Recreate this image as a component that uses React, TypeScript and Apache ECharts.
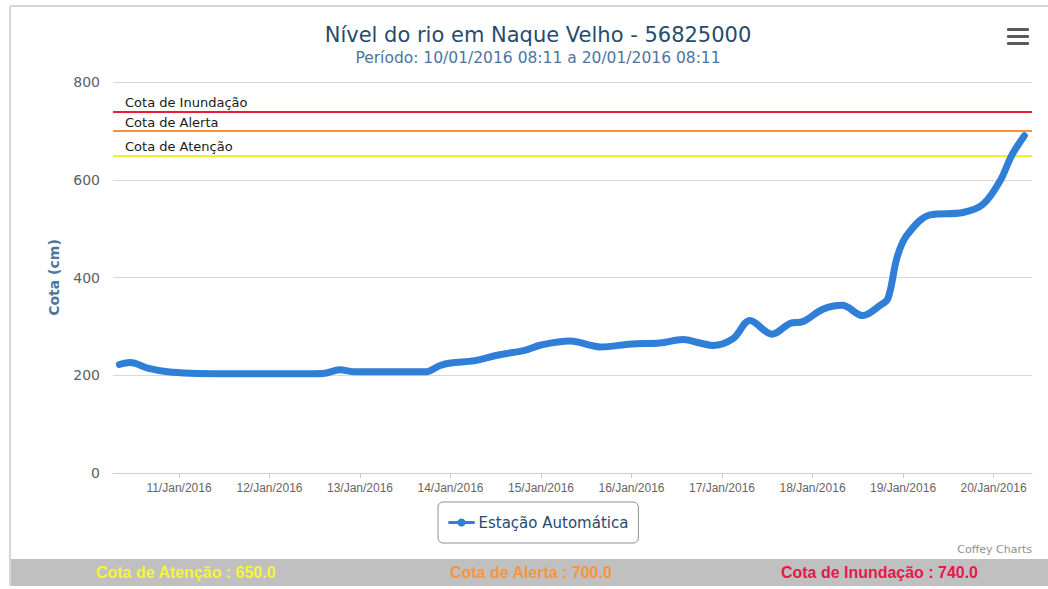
import React, { useEffect, useRef } from "react";
import * as echarts from "echarts";

const TITLE = "Nível do rio em Naque Velho - 56825000";
const SUBTITLE = "Período: 10/01/2016 08:11 a 20/01/2016 08:11";
const SERIES_NAME = "Estação Automática";
const Y_TITLE = "Cota (cm)";

const times: string[] = [
  "2016-01-10 08:11", "2016-01-10 11:00", "2016-01-10 16:00", "2016-01-10 21:00",
  "2016-01-11 03:00", "2016-01-11 12:00", "2016-01-12 00:00", "2016-01-12 12:00",
  "2016-01-12 14:40", "2016-01-12 18:40", "2016-01-12 22:40", "2016-01-13 12:00",
  "2016-01-13 17:15", "2016-01-13 21:15", "2016-01-14 00:00", "2016-01-14 06:30",
  "2016-01-14 13:00", "2016-01-14 19:40", "2016-01-15 00:00", "2016-01-15 07:40",
  "2016-01-15 15:40", "2016-01-16 00:00", "2016-01-16 07:30", "2016-01-16 13:40",
  "2016-01-16 18:10", "2016-01-16 21:35", "2016-01-17 02:55", "2016-01-17 07:25",
  "2016-01-17 13:15", "2016-01-17 18:00", "2016-01-17 21:30", "2016-01-18 02:45",
  "2016-01-18 07:50", "2016-01-18 13:20", "2016-01-18 17:55", "2016-01-18 20:00",
  "2016-01-18 22:25", "2016-01-19 01:00", "2016-01-19 07:10", "2016-01-19 15:55",
  "2016-01-19 21:15", "2016-01-20 01:45", "2016-01-20 04:50", "2016-01-20 08:11",
];
const levels: number[] = [
  222, 226, 214, 207,
  204, 203, 203, 203,
  204, 211, 207, 207,
  207, 220, 225, 230,
  242, 251, 262, 270,
  258, 264, 266, 273,
  266, 261, 275, 312,
  284, 306, 310, 335,
  343, 322, 343, 357,
  441, 486, 528, 533,
  550, 598, 650, 690,
];

const thresholdNames = ["Cota de Inundação", "Cota de Alerta", "Cota de Atenção"];
const thresholdValues = [740, 700, 650];
const thresholdColors = ["#ec1b3b", "#f7913b", "#f2f22c"];

const footerLabels = ["Cota de Atenção : 650.0", "Cota de Alerta : 700.0", "Cota de Inundação : 740.0"];
const footerColors = ["#f5f53a", "#f7943f", "#e8174d"];

const yTicks = { min: 0, max: 800, interval: 200 };
const xRange = ["2016-01-10 06:30", "2016-01-20 10:12"];
const monthNames = ["Jan", "Feb", "Mar", "Apr", "May", "Jun", "Jul", "Aug", "Sep", "Oct", "Nov", "Dec"];

function parseTime(s: string): number {
  const [d, t] = s.split(" ");
  const [y, m, day] = d.split("-").map(Number);
  const [hh, mm] = t.split(":").map(Number);
  return new Date(y, m - 1, day, hh, mm).getTime();
}

export default function App() {
  const ref = useRef<HTMLDivElement>(null);
  useEffect(() => {
    if (!ref.current) return;
    const chart = echarts.init(ref.current, null, { renderer: "svg" });
    const data = times.map((t, i) => [parseTime(t), levels[i]]);
    const footerX = [96, 450, 781];
    chart.setOption({
      animation: false,
      backgroundColor: "#ffffff",
      title: [
        {
          text: TITLE,
          left: 533,
          top: 19,
          textAlign: "center",
          textStyle: { fontFamily: "DejaVu Sans", fontSize: 21, fontWeight: "normal", color: "#274b6d" },
        },
        {
          text: SUBTITLE,
          left: 533,
          top: 45,
          textAlign: "center",
          textStyle: { fontFamily: "DejaVu Sans", fontSize: 15.5, fontWeight: "normal", color: "#4d759e" },
        },
      ],
      legend: {
        left: 438,
        top: 502,
        padding: [13, 10],
        borderColor: "#909090",
        borderWidth: 1,
        borderRadius: 5,
        itemWidth: 24,
        itemHeight: 10,
        itemGap: 6,
        lineStyle: { width: 3 },
        textStyle: { fontFamily: "DejaVu Sans", fontSize: 15, color: "#274b6d" },
        data: [SERIES_NAME],
      },
      grid: { left: 113, right: 16, top: 82, bottom: 116 },
      xAxis: {
        type: "time",
        min: parseTime(xRange[0]),
        max: parseTime(xRange[1]),
        minInterval: 86400000,
        maxInterval: 86400000,
        axisLine: { show: true, lineStyle: { color: "#c0d0e0", width: 1 } },
        axisTick: { show: true, length: 5, lineStyle: { color: "#c0d0e0" } },
        splitLine: { show: false },
        axisLabel: {
          margin: 9,
          fontFamily: "Liberation Sans",
          fontSize: 12,
          color: "#666666",
          showMinLabel: false,
          showMaxLabel: false,
          formatter: (v: number) => {
            const d = new Date(v);
            if (d.getHours() !== 0 || d.getMinutes() !== 0) return "";
            const dd = String(d.getDate()).padStart(2, "0");
            return `${dd}/${monthNames[d.getMonth()]}/${d.getFullYear()}`;
          },
        },
      },
      yAxis: {
        type: "value",
        min: yTicks.min,
        max: yTicks.max,
        interval: yTicks.interval,
        name: Y_TITLE,
        nameLocation: "middle",
        nameGap: 52,
        nameTextStyle: { fontFamily: "DejaVu Sans", fontSize: 14, fontWeight: "bold", color: "#4d759e" },
        axisLine: { show: false },
        axisTick: { show: false },
        axisLabel: { margin: 13, fontFamily: "DejaVu Sans", fontSize: 14, color: "#606060" },
        splitLine: { lineStyle: { color: "#d8d8d8", width: 1 } },
      },
      series: [
        {
          name: SERIES_NAME,
          type: "line",
          data,
          smooth: 0.35,
          showSymbol: false,
          symbol: "circle",
          symbolSize: 9,
          color: "#2f7ed8",
          lineStyle: { width: 7, color: "#2f7ed8", cap: "round", join: "round" },
          z: 3,
          markLine: {
            silent: true,
            symbol: ["none", "none"],
            z: 2,
            data: thresholdValues.map((v, i) => ({
              yAxis: v,
              lineStyle: { color: thresholdColors[i], width: 2, type: "solid" },
              label: {
                show: true,
                position: "insideStartTop",
                distance: [12, 2],
                formatter: thresholdNames[i],
                fontFamily: "DejaVu Sans",
                fontSize: 13,
                color: "#1a1a1a",
              },
            })),
          },
        },
      ],
      graphic: [
        { type: "line", shape: { x1: 10, y1: 6, x2: 1048, y2: 6 }, style: { stroke: "#d6d6d6", lineWidth: 2 }, silent: true },
        { type: "line", shape: { x1: 10, y1: 6, x2: 10, y2: 586 }, style: { stroke: "#d6d6d6", lineWidth: 2 }, silent: true },
        { type: "rect", shape: { x: 11, y: 559, width: 1037, height: 27 }, style: { fill: "#c0c0c0" }, silent: true },
        ...footerLabels.map((t, i) => ({
          type: "text",
          x: footerX[i],
          y: 572,
          scaleX: 0.94,
          style: {
            text: t,
            fill: footerColors[i],
            fontFamily: "Liberation Sans",
            fontSize: 17,
            fontWeight: "bold",
            verticalAlign: "middle",
          },
          silent: true,
        })),
        {
          type: "text",
          x: 1032,
          y: 549,
          style: {
            text: "Coffey Charts",
            fill: "#909090",
            fontFamily: "DejaVu Sans",
            fontSize: 11,
            align: "right",
            verticalAlign: "middle",
          },
          silent: true,
        },
        ...[28, 35, 42].map((y) => ({
          type: "rect",
          shape: { x: 1007, y, width: 22, height: 3, r: 1 },
          style: { fill: "#5a5a5a" },
          silent: true,
        })),
      ],
    });
    return () => chart.dispose();
  }, []);
  return (
    <div
      ref={ref}
      style={{ position: "fixed", left: 0, top: 0, width: 1048, height: 589 }}
    />
  );
}
